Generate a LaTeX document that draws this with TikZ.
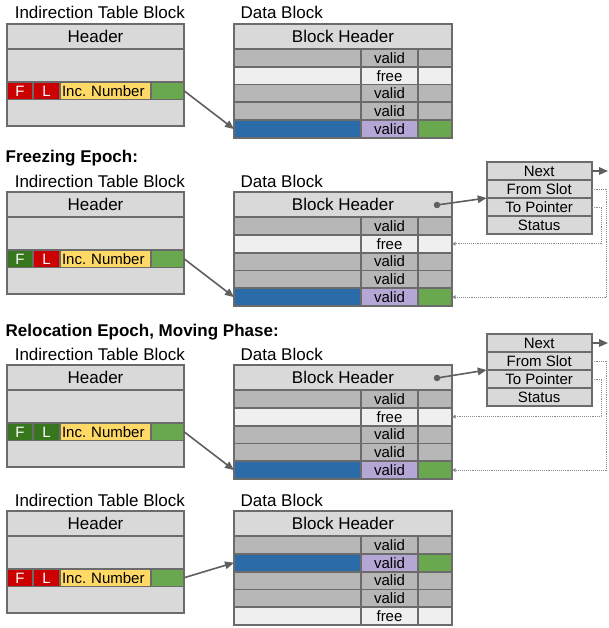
\documentclass[tikz,border=0pt]{standalone}
\usepackage{fontspec}
\setmainfont{Liberation Sans}
\usetikzlibrary{arrows.meta}
\frenchspacing
\definecolor{hdr}{HTML}{D9D9D9}
\definecolor{dgray}{HTML}{B7B7B7}
\definecolor{freec}{HTML}{EFEFEF}
\definecolor{blu}{HTML}{2B6CA8}
\definecolor{purp}{HTML}{B4A7D6}
\definecolor{grn}{HTML}{6AA84F}
\definecolor{redc}{HTML}{CC0000}
\definecolor{dgrn}{HTML}{38761D}
\definecolor{yel}{HTML}{FFD966}
\definecolor{bord}{HTML}{6B6B6B}
\definecolor{arrg}{HTML}{5F5F5F}
\definecolor{dotg}{HTML}{8C8C8C}
\newcommand{\bigf}{\fontsize{17}{20}\selectfont}
\newcommand{\smf}{\fontsize{15}{18}\selectfont}
\tikzset{
  cell/.style={draw=bord, line width=1.8pt, inner sep=0pt, outer sep=0pt, anchor=north west,
    font=\smf, text height=10.8pt, text depth=0pt},
  bigcell/.style={cell, font=\bigf, text height=12.2pt},
  lbl/.style={anchor=base west, inner sep=0pt, font=\bigf},
  ttl/.style={anchor=base west, inner sep=0pt, font=\bigf\bfseries},
  arr/.style={draw=arrg, line width=1.6pt, -{Triangle[length=9pt,width=7.5pt]}},
  dotarr/.style={draw=dotg, line width=0.9pt, densely dotted, -{Triangle[length=3.5pt,width=3.5pt]}},
  pdot/.style={circle, fill=arrg, inner sep=0pt, minimum size=6.5pt}
}
\newcommand{\itblock}[4]{%
  \node[bigcell,fill=hdr,minimum width=177,minimum height=25] (#1h) at (7,#2) {Header};
  \node[cell,fill=hdr,minimum width=177,minimum height=33] (#1ea) at (7,#2+25) {};
  \node[cell,fill=#3,text=white,minimum width=26,minimum height=17.5] (#1F) at (7,#2+58) {F};
  \node[cell,fill=#4,text=white,minimum width=27,minimum height=17.5] (#1L) at (33,#2+58) {L};
  \node[cell,fill=yel,minimum width=91,minimum height=17.5,text width=87pt,align=left] (#1inc) at (60,#2+58) {Inc. Number};
  \node[cell,fill=grn,minimum width=33,minimum height=17.5] (#1g) at (151,#2+58) {};
  \node[cell,fill=hdr,minimum width=177,minimum height=26.5] (#1eb) at (7,#2+75.5) {};
}
\newcommand{\dheader}[2]{%
  \node[bigcell,fill=hdr,minimum width=218,minimum height=25] (#1h) at (234,#2) {Block Header};
}
\newcommand{\mkrow}[6]{%
  \node[cell,fill=#3,minimum width=127,minimum height=17.8] (#1a) at (234,#2) {};
  \node[cell,fill=#4,minimum width=57,minimum height=17.8] (#1b) at (361,#2) {#5};
  \node[cell,fill=#6,minimum width=34,minimum height=17.8] (#1c) at (418,#2) {};
}
\newcommand{\mkstruct}[2]{%
  \node[cell,fill=hdr,minimum width=105,minimum height=18] (#1next) at (486.7,#2) {Next};
  \node[cell,fill=hdr,minimum width=105,minimum height=18] (#1fs) at (486.7,#2+18) {From Slot};
  \node[cell,fill=hdr,minimum width=105,minimum height=18] (#1tp) at (486.7,#2+36) {To Pointer};
  \node[cell,fill=hdr,minimum width=105,minimum height=18] (#1st) at (486.7,#2+54) {Status};
}
\begin{document}
\begin{tikzpicture}[x=1pt,y=-1pt]
\useasboundingbox[fill=white] (0,0) rectangle (608,628);

% ---------- Section 1 ----------
\node[lbl] (l1a) at (14.6,19) {Indirection Table Block};
\node[lbl] (l1b) at (240.4,19) {Data Block};
\itblock{a}{24}{redc}{redc}
\dheader{ad}{24}
\mkrow{ar1}{49}{dgray}{dgray}{valid}{dgray}
\mkrow{ar2}{66.8}{freec}{freec}{free}{freec}
\mkrow{ar3}{84.6}{dgray}{dgray}{valid}{dgray}
\mkrow{ar4}{102.4}{dgray}{dgray}{valid}{dgray}
\mkrow{ar5}{120.2}{blu}{purp}{valid}{grn}
\draw[arr] (ag.east) -- (ar5a.west);

% ---------- Section 2 ----------
\node[ttl] (t2) at (5.5,162.7) {Freezing Epoch:};
\node[lbl] (l2a) at (14.6,187.5) {Indirection Table Block};
\node[lbl] (l2b) at (240.4,187.5) {Data Block};
\itblock{b}{192}{dgrn}{redc}
\dheader{bd}{192}
\mkrow{br1}{217}{dgray}{dgray}{valid}{dgray}
\mkrow{br2}{234.8}{freec}{freec}{free}{freec}
\mkrow{br3}{252.6}{dgray}{dgray}{valid}{dgray}
\mkrow{br4}{270.4}{dgray}{dgray}{valid}{dgray}
\mkrow{br5}{288.2}{blu}{purp}{valid}{grn}
\draw[arr] (bg.east) -- (br5a.west);
\mkstruct{bs}{162}
\node[pdot] (bdot) at (437,205) {};
\coordinate (bout) at (608,171);
\draw[arr] (bdot.center) -- (bsfs.south west);
\draw[arr] (bsnext.east) -- (bout);
\draw[dotarr] (bsfs.east) -- ++(15,0) |- (br5c.east);
\draw[dotarr] (bstp.east) -- ++(10,0) |- (br2c.east);

% ---------- Section 3 ----------
\node[ttl] (t3) at (5.5,336.5) {Relocation Epoch, Moving Phase:};
\node[lbl] (l3a) at (14.6,360.5) {Indirection Table Block};
\node[lbl] (l3b) at (240.4,360.5) {Data Block};
\itblock{c}{365}{dgrn}{dgrn}
\dheader{cd}{365}
\mkrow{cr1}{390}{dgray}{dgray}{valid}{dgray}
\mkrow{cr2}{407.8}{freec}{freec}{free}{freec}
\mkrow{cr3}{425.6}{dgray}{dgray}{valid}{dgray}
\mkrow{cr4}{443.4}{dgray}{dgray}{valid}{dgray}
\mkrow{cr5}{461.2}{blu}{purp}{valid}{grn}
\draw[arr] (cg.east) -- (cr5a.west);
\mkstruct{cs}{334}
\node[pdot] (cdot) at (437,378) {};
\coordinate (cout) at (608,343);
\draw[arr] (cdot.center) -- (csfs.south west);
\draw[arr] (csnext.east) -- (cout);
\draw[dotarr] (csfs.east) -- ++(15,0) |- (cr5c.east);
\draw[dotarr] (cstp.east) -- ++(10,0) |- (cr2c.east);

% ---------- Section 4 ----------
\node[lbl] (l4a) at (14.6,506) {Indirection Table Block};
\node[lbl] (l4b) at (240.4,506) {Data Block};
\itblock{d}{511}{redc}{redc}
\dheader{dd}{511}
\mkrow{dr1}{536}{dgray}{dgray}{valid}{dgray}
\mkrow{dr2}{553.8}{blu}{purp}{valid}{grn}
\mkrow{dr3}{571.6}{dgray}{dgray}{valid}{dgray}
\mkrow{dr4}{589.4}{dgray}{dgray}{valid}{dgray}
\mkrow{dr5}{607.2}{freec}{freec}{free}{freec}
\draw[arr] (dg.east) -- (dr2a.west);
\end{tikzpicture}
\end{document}
